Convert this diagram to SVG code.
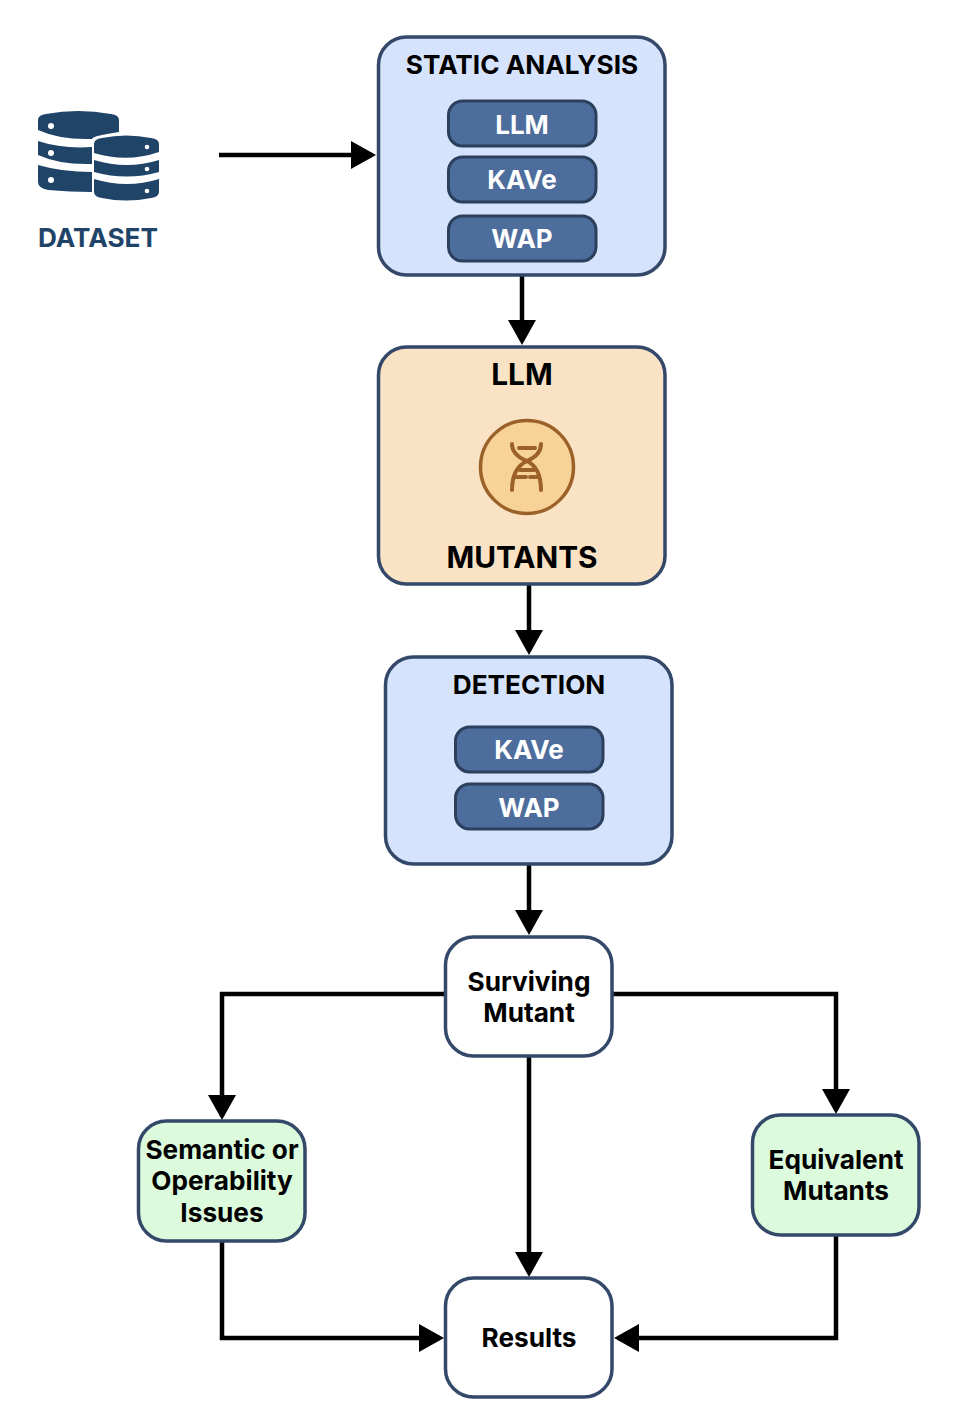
<svg xmlns="http://www.w3.org/2000/svg" width="976" height="1422" viewBox="0 0 976 1422">
<defs>
<marker id="arr" markerUnits="userSpaceOnUse" markerWidth="26" markerHeight="30" refX="21" refY="15" orient="auto"><path d="M0,1 L25,15 L0,29 Z" fill="#000"/></marker>
</defs>
<style>
text{font-family:Inter,"Liberation Sans",sans-serif;font-weight:700;text-anchor:middle}
.blue{fill:#d5e3fc;stroke:#34486a;stroke-width:3.5}
.orange{fill:#f9e3c4;stroke:#34486a;stroke-width:3.5}
.white{fill:#fff;stroke:#34486a;stroke-width:3.5}
.green{fill:#dcfbdc;stroke:#34486a;stroke-width:3.5}
.pill{fill:#4d6d9c;stroke:#2c3f5c;stroke-width:3}
.pt{fill:#fff;font-size:26px}
.ht{fill:#000;font-size:26.2px}
.bt{fill:#000;font-size:26.2px}
.big{font-size:29.8px}
.conn{fill:none;stroke:#000;stroke-width:4.5;marker-end:url(#arr)}
.db{fill:#1f4468}
.hole{fill:#fff}
.dna{fill:none;stroke:#9c6128;stroke-width:4;stroke-linecap:round}
</style>
<rect width="976" height="1422" fill="#fff"/>
<g id="connectors">
<path class="conn" d="M219,155 H372"/>
<path class="conn" d="M522,275 V341"/>
<path class="conn" d="M529,585 V651"/>
<path class="conn" d="M529,865 V931"/>
<path class="conn" d="M445,994 H222 V1116"/>
<path class="conn" d="M612,994 H836 V1110"/>
<path class="conn" d="M529,1056 V1273"/>
<path class="conn" d="M222,1241 V1338 H440"/>
<path class="conn" d="M836,1235 V1338 H618"/>
</g>
<g id="dataset">
<path class="db" d="M38,120 Q38,115 46,114 Q78,108 111,114 Q119,115 119,120 V132 Q112,133 102,135 Q92,137 92,139 Q60,140 38,130 Z"/>
<path class="db" d="M38,141 Q62,149 92,147 V164 Q60,165 38,155 Z"/>
<path class="db" d="M38,165 Q62,172 92,172 V192 Q70,192 48,190 Q38,188 38,182 Z"/>
<path class="db" d="M94,144 Q94,139 102,138 Q126,133 151,138 Q159,139 159,144 V152 Q127,163 94,153 Z"/>
<path class="db" d="M94,160 Q127,170 159,160 V172 Q127,181 94,172 Z"/>
<path class="db" d="M94,179 Q127,189 159,179 V192 Q159,197 151,198 Q126,203 102,198 Q94,197 94,192 Z"/>
<circle class="hole" cx="51" cy="126" r="3"/><circle class="hole" cx="51" cy="153" r="3"/><circle class="hole" cx="51" cy="180" r="3"/>
<circle class="hole" cx="147" cy="147" r="2.3"/><circle class="hole" cx="147" cy="169" r="2.3"/><circle class="hole" cx="147" cy="191" r="2.3"/>
<text x="98" y="247" font-size="26.2" fill="#1f4468">DATASET</text>
</g>
<g id="static-analysis">
<rect class="blue" x="378.5" y="37" width="286.5" height="238" rx="28"/>
<text class="ht" x="522" y="74">STATIC ANALYSIS</text>
<rect class="pill" x="448.5" y="101" width="147.5" height="45" rx="14"/><text class="pt" x="522" y="133.5">LLM</text>
<rect class="pill" x="448.5" y="157" width="147.5" height="45" rx="14"/><text class="pt" x="522" y="189">KAVe</text>
<rect class="pill" x="448.5" y="216" width="147.5" height="45" rx="14"/><text class="pt" x="522" y="248">WAP</text>
</g>
<g id="llm-mutants">
<rect class="orange" x="378.5" y="347" width="286.5" height="237" rx="28"/>
<text class="ht big" x="522" y="385">LLM</text>
<circle cx="527" cy="467" r="46.5" fill="#f8d399" stroke="#9c6128" stroke-width="3.5"/>
<path class="dna" d="M512,444 Q512,455 527,461 Q512,468 512,490 M541,444 Q541,455 527,461 Q541,468 541,490 M519,448 H535 M520,470 H534 M514,477 H526 M530,477 H539"/>
<text class="ht big" x="522" y="568">MUTANTS</text>
</g>
<g id="detection">
<rect class="blue" x="385.5" y="657" width="286.5" height="207" rx="28"/>
<text class="ht" x="529" y="694">DETECTION</text>
<rect class="pill" x="455.5" y="727" width="147.5" height="45" rx="14"/><text class="pt" x="529" y="759">KAVe</text>
<rect class="pill" x="455.5" y="784" width="147.5" height="45" rx="14"/><text class="pt" x="529" y="817">WAP</text>
</g>
<g id="surviving">
<rect class="white" x="445.5" y="937" width="166.5" height="119" rx="28"/>
<text class="bt" x="529" y="990.5">Surviving</text><text class="bt" x="529" y="1022">Mutant</text>
</g>
<g id="semantic">
<rect class="green" x="138.5" y="1121" width="166.5" height="120" rx="28"/>
<text class="bt" x="222" y="1159">Semantic or</text><text class="bt" x="222" y="1190">Operability</text><text class="bt" x="222" y="1222">Issues</text>
</g>
<g id="equivalent">
<rect class="green" x="752.5" y="1115" width="166.5" height="120" rx="28"/>
<text class="bt" x="836" y="1169">Equivalent</text><text class="bt" x="836" y="1200">Mutants</text>
</g>
<g id="results">
<rect class="white" x="445.5" y="1278" width="166.5" height="119" rx="28"/>
<text class="bt" x="529" y="1347">Results</text>
</g>
</svg>
